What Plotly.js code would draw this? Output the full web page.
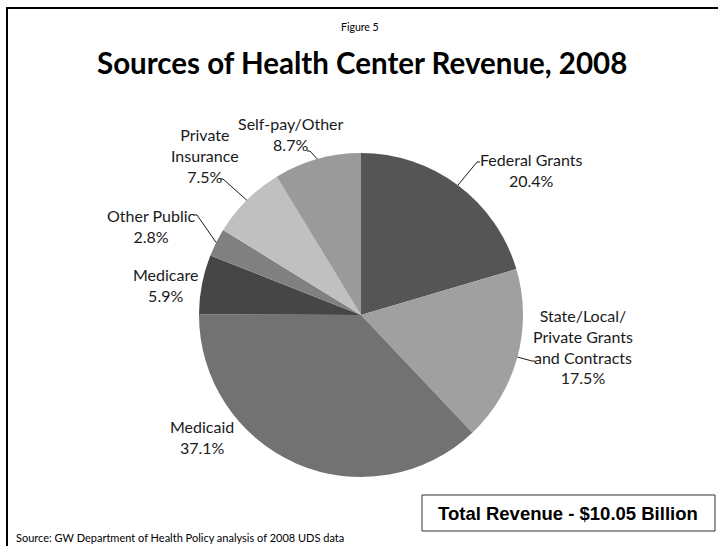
<!DOCTYPE html>
<html>
<head>
<meta charset="utf-8">
<script src="https://cdn.plot.ly/plotly-3.0.1.min.js"></script>
<style>html,body{margin:0;padding:0;background:#fff;}#chart{width:718px;height:546px;}</style>
</head>
<body>
<div id="chart"></div>
<script>
// ---- data ----
const categories = ["Federal Grants", "State/Local/<br>Private Grants<br>and Contracts", "Medicaid", "Medicare", "Other Public", "Private<br>Insurance", "Self-pay/Other"];
const values = [20.4, 17.5, 37.1, 5.9, 2.8, 7.5, 8.7];
const percentLabels = ["20.4%", "17.5%", "37.1%", "5.9%", "2.8%", "7.5%", "8.7%"];

// ---- styles / layout ----
const W = 718, H = 546;
const sliceColors = ["#555555", "#a0a0a0", "#727272", "#464646", "#808080", "#c0c0c0", "#9a9a9a"];
const cx = 361, cy = 315, R = 162;
// label block centres (pixels) and leader elbow (pixels, null = no leader)
const labelPos = [[531, 170], [583, 346], [202, 437], [165, 285], [151, 226], [205, 155], [291, 134]];
const elbows = [[477, 162, 480], [532, 361, 535], null, null, [197, 215, 194], [223, 179, 220], [310, 151, 307]];

const px = x => x / W, py = y => 1 - y / H;
const font = "Lato, 'Open Sans', sans-serif";

const total = values.reduce((a, b) => a + b, 0);
let cum = 0;
const annotations = [];
const shapes = [];
values.forEach((v, i) => {
  const mid = (cum + v / 2) / total * 2 * Math.PI;
  cum += v;
  const ex = cx + R * Math.sin(mid), ey = cy - R * Math.cos(mid);
  annotations.push({
    x: px(labelPos[i][0]), y: py(labelPos[i][1]), xref: "paper", yref: "paper",
    xanchor: "center", yanchor: "middle", showarrow: false, align: "center",
    text: categories[i] + "<br>" + percentLabels[i],
    font: {family: font, size: 16, color: "#1a1a1a"}
  });
  if (elbows[i]) {
    const [bx, by, tx] = elbows[i];
    shapes.push({type: "path", xref: "paper", yref: "paper",
      path: `M ${px(ex)} ${py(ey)} L ${px(bx)} ${py(by)} L ${px(tx)} ${py(by)}`,
      line: {color: "#1a1a1a", width: 1}});
  }
});

annotations.push(
  {x: px(360), y: py(27), xref: "paper", yref: "paper", showarrow: false, xanchor: "center", yanchor: "middle",
   text: "Figure 5", font: {family: font, size: 10.5, color: "#000"}},
  {x: px(362), y: py(62), xref: "paper", yref: "paper", showarrow: false, xanchor: "center", yanchor: "middle",
   text: "<b>Sources of Health Center Revenue, 2008</b>", font: {family: font, size: 29.5, color: "#000"}},
  {x: px(568), y: py(513), xref: "paper", yref: "paper", showarrow: false, xanchor: "center", yanchor: "middle",
   text: "<b>Total Revenue - $10.05 Billion</b>", font: {family: "'Liberation Sans Narrow', 'Liberation Sans', Arial, sans-serif", size: 18.5, color: "#000"}},
  {x: px(14), y: py(537), xref: "paper", yref: "paper", showarrow: false, xanchor: "left", yanchor: "middle",
   text: "Source: GW Department of Health Policy analysis of 2008 UDS data", font: {family: font, size: 11, color: "#000"}}
);

shapes.push(
  {type: "rect", xref: "paper", yref: "paper", x0: px(422), x1: px(715), y0: py(495), y1: py(531),
   line: {color: "#333", width: 1}, fillcolor: "rgba(0,0,0,0)"},
  {type: "line", xref: "paper", yref: "paper", x0: px(7), x1: px(7), y0: py(8), y1: 0, line: {color: "#000", width: 2}},
  {type: "line", xref: "paper", yref: "paper", x0: px(6), x1: 1, y0: py(8), y1: py(8), line: {color: "#000", width: 2}}
);

const trace = {
  type: "pie", values: values, labels: categories, sort: false, direction: "clockwise", rotation: 0,
  marker: {colors: sliceColors, line: {width: 0}},
  textinfo: "none", hoverinfo: "label+percent",
  domain: {x: [px(cx - R), px(cx + R)], y: [py(cy + R), py(cy - R)]}
};

Plotly.newPlot("chart", [trace], {
  width: W, height: H, margin: {l: 0, r: 0, t: 0, b: 0},
  paper_bgcolor: "#fff", showlegend: false,
  annotations: annotations, shapes: shapes
}, {displayModeBar: false, staticPlot: true});
</script>
</body>
</html>
